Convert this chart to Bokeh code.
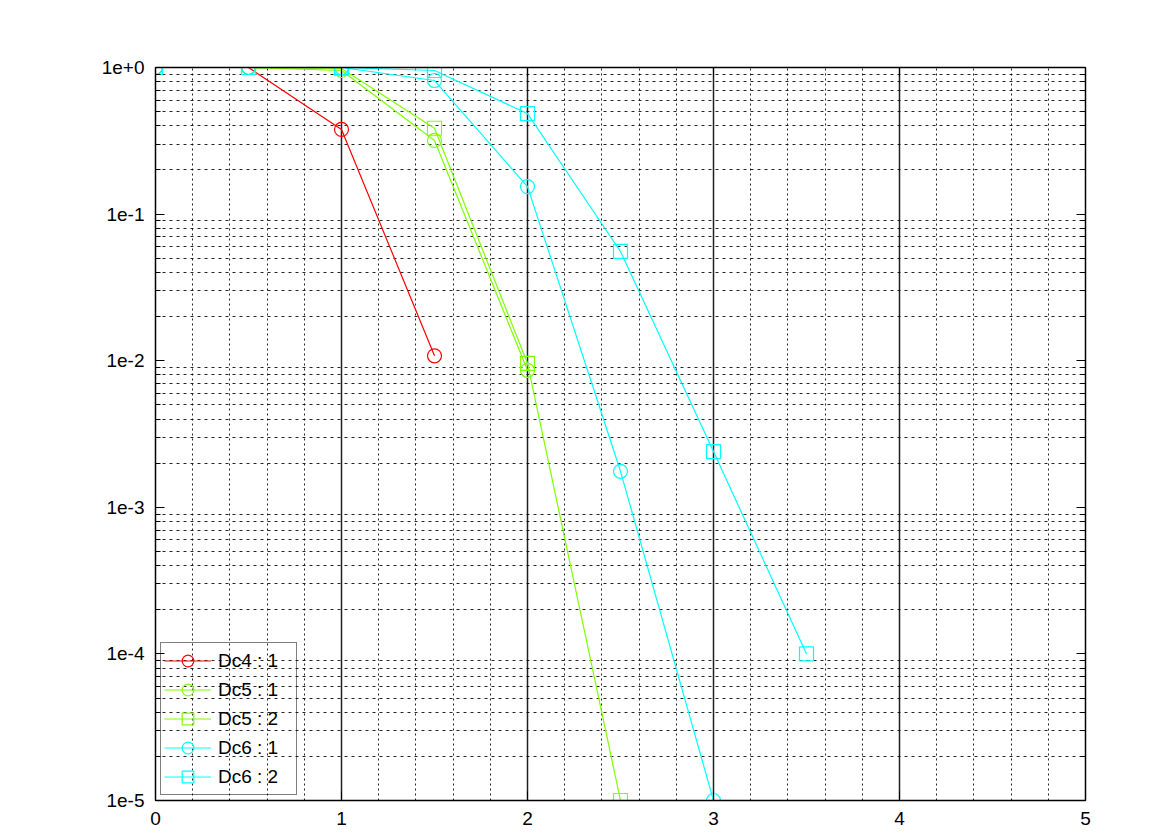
from bokeh.plotting import figure
from bokeh.models import (FixedTicker, LinearAxis, LogAxis, Grid, CustomJSTickFormatter,
                          Legend, LegendItem, Range1d)
from bokeh.embed import file_html
from bokeh.resources import INLINE

# ---- data ----
x_vals = [0, 0.5, 1, 1.5, 2, 2.5, 3, 3.5]
dc4_1 = [1.0, 1.0, 0.378, 0.0108]
dc5_1 = [1.0, 1.0, 0.954, 0.318, 0.0086]
dc5_2 = [1.0, 1.0, 0.985, 0.385, 0.0096, 1e-5]
dc6_1 = [1.0, 1.0, 1.0, 0.815, 0.154, 0.00176, 1e-5]
dc6_2 = [1.0, 1.0, 1.0, 0.954, 0.485, 0.0556, 0.0024, 1e-4]

series_labels = ["Dc4 : 1", "Dc5 : 1", "Dc5 : 2", "Dc6 : 1", "Dc6 : 2"]
series_values = [dc4_1, dc5_1, dc5_2, dc6_1, dc6_2]
series_colors = ["#ff0000", "#80ff00", "#80ff00", "#00ffff", "#00ffff"]
series_markers = ["circle", "circle", "square", "circle", "square"]

x_ticks = [0, 1, 2, 3, 4, 5]
y_decades = [1e-5, 1e-4, 1e-3, 1e-2, 1e-1, 1e0]

FONT = "Liberation Sans"
FS = "19px"

p = figure(width=1175, height=835, y_axis_type="log",
           x_range=Range1d(0, 5), y_range=Range1d(1e-5, 1),
           output_backend="svg", toolbar_location=None,
           min_border_left=155, min_border_right=90,
           min_border_top=67, min_border_bottom=35)
p.background_fill_color = "white"
p.border_fill_color = "white"
p.outline_line_color = "black"
p.outline_line_width = 1

y_minor = [m * d for d in y_decades[:-1] for m in range(2, 10)]
x_minor = [i * 0.2 for i in range(1, 25) if i % 5 != 0]

# grids
p.xgrid.ticker = FixedTicker(ticks=[1, 2, 3, 4])
p.xgrid.grid_line_color = "#202020"
p.xgrid.grid_line_width = 1.5
p.ygrid.ticker = FixedTicker(ticks=y_minor)
p.ygrid.grid_line_color = "black"
p.ygrid.grid_line_alpha = 0.85
p.ygrid.grid_line_dash = "3 4"
p.ygrid.grid_line_width = 1
p.add_layout(Grid(dimension=0, ticker=FixedTicker(ticks=x_minor),
                  grid_line_color="black", grid_line_alpha=0.85,
                  grid_line_dash="2 3", grid_line_width=1))

exp_fmt = CustomJSTickFormatter(code="""
const e = Math.round(Math.log10(tick));
return "1e" + (e >= 0 ? "+" : "-") + Math.abs(e);
""")
blank = CustomJSTickFormatter(code="return '';")

def style_axis(ax):
    ax.axis_line_color = "black"
    ax.axis_line_width = 1.5
    ax.major_tick_in = 9
    ax.major_tick_out = 0
    ax.major_tick_line_color = "black"
    ax.minor_tick_in = 5
    ax.minor_tick_out = 0
    ax.minor_tick_line_color = "black"
    ax.major_label_text_font = FONT
    ax.major_label_text_font_size = FS
    ax.major_label_text_color = "black"

xa = p.xaxis[0]
xa.ticker = FixedTicker(ticks=x_ticks)
style_axis(xa)
xa.minor_tick_in = 0
xa.major_label_standoff = 11

ya = p.yaxis[0]
ya.ticker = FixedTicker(ticks=y_decades, minor_ticks=y_minor)
ya.formatter = exp_fmt
style_axis(ya)
ya.major_label_standoff = 11

ra = LogAxis(ticker=FixedTicker(ticks=y_decades, minor_ticks=y_minor), formatter=blank)
style_axis(ra)
p.add_layout(ra, "right")

ta = LinearAxis(ticker=FixedTicker(ticks=x_ticks), formatter=blank)
style_axis(ta)
ta.minor_tick_in = 0
p.add_layout(ta, "above")

items = []
for lab, vals, col, mk in zip(series_labels, series_values, series_colors, series_markers):
    xs = x_vals[:len(vals)]
    lr = p.line(xs, vals, line_color=col, line_width=1.2)
    sr = p.scatter(xs, vals, marker=mk, size=14, line_color=col, line_width=1.2,
                   fill_color=None)
    items.append(LegendItem(label=lab, renderers=[lr, sr]))

legend = Legend(items=items, location="bottom_left", margin=5, padding=3,
                spacing=0, glyph_width=47, glyph_height=29, label_height=29,
                label_width=75, label_standoff=7,
                label_text_font=FONT, label_text_font_size=FS,
                label_text_color="black",
                border_line_color="black", border_line_width=1,
                background_fill_alpha=0)
p.add_layout(legend)

open("out.html", "w").write(file_html(p, INLINE))
